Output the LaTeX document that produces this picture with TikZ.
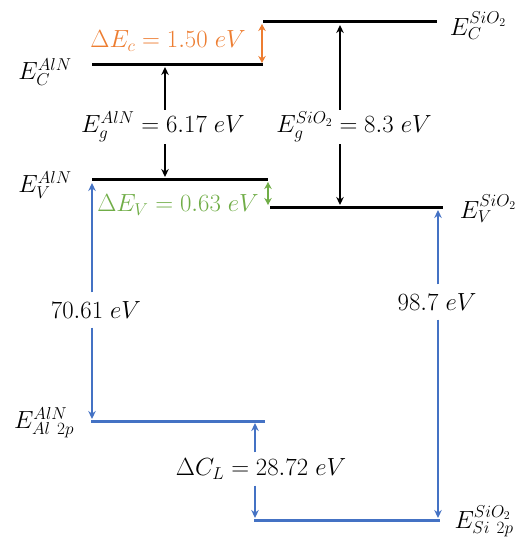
\documentclass[tikz,border=0pt]{standalone}
\usetikzlibrary{arrows.meta}
\definecolor{org}{RGB}{237,125,49}
\definecolor{grn}{RGB}{112,173,71}
\definecolor{blu}{RGB}{68,114,196}
\begin{document}
\begin{tikzpicture}[x=1bp,y=-1bp,
  level/.style={line width=3bp,black},
  clevel/.style={line width=3bp,blu},
  arr/.style={line width=1.8bp,-{Stealth[length=8bp,width=7.5bp]}},
  darr/.style={line width=1.8bp,{Stealth[length=7bp,width=7.5bp]}-{Stealth[length=7bp,width=7.5bp]}},
  lab/.style={font=\fontsize{23.5}{27}\selectfont, inner sep=0pt},
]
\useasboundingbox (0,0) rectangle (518,542);
% level end points
\coordinate (cl1) at (92,65);  \coordinate (cl2) at (263,65);
\coordinate (cs1) at (263,22); \coordinate (cs2) at (437,22);
\coordinate (vl1) at (92,180); \coordinate (vl2) at (268,180);
\coordinate (vs1) at (270,207);\coordinate (vs2) at (443,207);
\coordinate (al1) at (91,421); \coordinate (al2) at (265,421);
\coordinate (si1) at (254,520);\coordinate (si2) at (440,520);
% arrow end points
\coordinate (oat) at (262,24);  \coordinate (oab) at (262,63);
\coordinate (gat) at (268,182); \coordinate (gab) at (268,205);
\coordinate (agt) at (165,67);  \coordinate (agb) at (165,177);
\coordinate (sgt) at (340,25);  \coordinate (sgb) at (340,205);
\coordinate (lbt) at (92,183);  \coordinate (lbb) at (92,419);
\coordinate (rbt) at (438,210); \coordinate (rbb) at (438,518);
\coordinate (dct) at (255,423); \coordinate (dcb) at (255,518);

% levels
\draw[level] (cl1) -- (cl2);
\draw[level] (cs1) -- (cs2);
\draw[level] (vl1) -- (vl2);
\draw[level] (vs1) -- (vs2);
\draw[clevel] (al1) -- (al2);
\draw[clevel] (si1) -- (si2);

% level labels
\node[lab] (ECA) at (45,72)  {$E_C^{AlN}$};
\node[lab] (ECS) at (478,26) {$E_C^{SiO_2}$};
\node[lab] (EVA) at (45,185) {$E_V^{AlN}$};
\node[lab] (EVS) at (488,209) {$E_V^{SiO_2}$};
\node[lab] (EAl) at (44,423) {$E_{Al\ 2p}^{AlN}$};
\node[lab] (ESi) at (484,521) {$E_{Si\ 2p}^{SiO_2}$};

% offsets
\node[lab, text=org] (dEc) at (168,41) {$\Delta E_c = 1.50\ eV$};
\draw[darr, org] (oat) -- (oab);
\node[lab, text=grn] (dEv) at (178,205) {$\Delta E_V = 0.63\ eV$};
\draw[darr, grn] (gat) -- (gab);

% band gaps
\node[lab, inner ysep=2bp] (gA) at (163,127) {$E_g^{AlN} = 6.17\ eV$};
\draw[arr] (gA.north -| agt) -- (agt);
\draw[arr] (gA.south -| agb) -- (agb);
\node[lab, inner ysep=2bp] (gS) at (354,127) {$E_g^{SiO_2} = 8.3\ eV$};
\draw[arr] (gS.north -| sgt) -- (sgt);
\draw[arr] (gS.south -| sgb) -- (sgb);

% core levels
\node[lab, inner ysep=9bp] (n70) at (96,310) {$70.61\ eV$};
\draw[arr, blu] (n70.north -| lbt) -- (lbt);
\draw[arr, blu] (n70.south -| lbb) -- (lbb);
\node[lab, inner ysep=9bp] (n98) at (437,302) {$98.7\ eV$};
\draw[arr, blu] (n98.north -| rbt) -- (rbt);
\draw[arr, blu] (n98.south -| rbb) -- (rbb);
\node[lab, inner ysep=6bp] (dCL) at (261,469) {$\Delta C_L = 28.72\ eV$};
\draw[arr, blu] (dCL.north -| dct) -- (dct);
\draw[arr, blu] (dCL.south -| dcb) -- (dcb);
\end{tikzpicture}
\end{document}
